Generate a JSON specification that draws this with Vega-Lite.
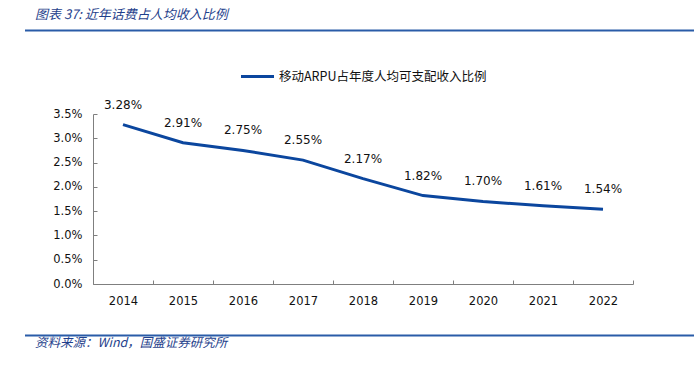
{
  "$schema": "https://vega.github.io/schema/vega-lite/v6.json",
  "background": "white",
  "padding": {"left": 22, "top": 8, "right": 0, "bottom": 0},
  "spacing": 26,
  "columns": 1,
  "bounds": "full",
  "resolve": {"legend": {"color": "independent"}},
  "config": {
    "view": {"stroke": null},
    "font": "DejaVu Sans"
  },
  "datasets": {
    "arpu": [
      {"year": "2014", "ratio": 0.0328},
      {"year": "2015", "ratio": 0.0291},
      {"year": "2016", "ratio": 0.0275},
      {"year": "2017", "ratio": 0.0255},
      {"year": "2018", "ratio": 0.0217},
      {"year": "2019", "ratio": 0.0182},
      {"year": "2020", "ratio": 0.0170},
      {"year": "2021", "ratio": 0.0161},
      {"year": "2022", "ratio": 0.0154}
    ],
    "one": [{"k": 0}]
  },
  "concat": [
    {
      "width": 672,
      "height": 1,
      "data": {"name": "one"},
      "title": {
        "text": "图表 37:  近年话费占人均收入比例",
        "anchor": "start",
        "dx": 11,
        "offset": 8,
        "font": "Noto Sans CJK SC",
        "fontSize": 13,
        "fontStyle": "italic",
        "fontWeight": "normal",
        "color": "#1F3F8C"
      },
      "mark": {"type": "rule", "color": "#2A5CA8", "strokeWidth": 2},
      "encoding": {"y": {"field": "k", "type": "quantitative", "axis": null}}
    },
    {
      "spacing": 27,
      "columns": 1,
      "bounds": "full",
      "resolve": {"legend": {"color": "independent"}},
      "concat": [
        {
          "spacing": 0,
          "bounds": "full",
          "resolve": {"legend": {"color": "independent"}},
          "hconcat": [
            {
              "width": 1,
              "height": 1,
              "data": {"name": "one"},
              "mark": {"type": "point", "opacity": 0},
              "encoding": {}
            },
            {
              "width": 540,
              "height": 170,
              "data": {"name": "arpu"},
              "encoding": {
                "x": {
                  "field": "year",
                  "type": "ordinal",
                  "scale": {"paddingInner": 0, "paddingOuter": 0},
                  "axis": {
                    "title": null,
                    "labelAngle": 0,
                    "tickBand": "extent",
                    "tickSize": -4,
                    "labelPadding": 15,
                    "labelFontSize": 11.5,
                    "labelColor": "#111111",
                    "domainColor": "#7f7f7f",
                    "tickColor": "#7f7f7f",
                    "grid": false
                  }
                },
                "y": {
                  "field": "ratio",
                  "type": "quantitative",
                  "scale": {"domain": [0, 0.035]},
                  "axis": {
                    "title": null,
                    "format": ".1%",
                    "values": [0, 0.005, 0.01, 0.015, 0.02, 0.025, 0.03, 0.035],
                    "tickSize": -4,
                    "labelPadding": 15,
                    "labelFontSize": 11.5,
                    "labelColor": "#111111",
                    "domainColor": "#7f7f7f",
                    "tickColor": "#7f7f7f",
                    "grid": false,
                    "minExtent": 64
                  }
                }
              },
              "layer": [
                {
                  "mark": {"type": "line", "strokeWidth": 3},
                  "encoding": {
                    "color": {
                      "datum": "移动ARPU占年度人均可支配收入比例",
                      "scale": {"range": ["#0B469E"]},
                      "legend": {
                        "title": null,
                        "orient": "none",
                        "legendX": 146,
                        "legendY": -56,
                        "symbolType": "stroke",
                        "symbolSize": 1090,
                        "symbolStrokeWidth": 3,
                        "labelFont": "Noto Sans CJK SC",
                        "labelFontSize": 12.5,
                        "labelLimit": 400,
                        "labelColor": "#111111",
                        "labelOffset": 3
                      }
                    }
                  }
                },
                {
                  "mark": {"type": "text", "dy": -20, "fontSize": 12, "color": "#111111"},
                  "encoding": {
                    "text": {"field": "ratio", "type": "quantitative", "format": ".2%"}
                  }
                }
              ]
            }
          ]
        },
        {
          "width": 672,
          "height": 1,
          "data": {"name": "one"},
          "title": {
            "text": "资料来源：Wind，国盛证券研究所",
            "orient": "bottom",
            "anchor": "start",
            "dx": 11,
            "offset": 0,
            "font": "Noto Sans CJK SC",
            "fontSize": 12.5,
            "fontStyle": "italic",
            "fontWeight": "normal",
            "color": "#1F3F8C"
          },
          "mark": {"type": "rule", "color": "#2A5CA8", "strokeWidth": 2},
          "encoding": {"y": {"field": "k", "type": "quantitative", "axis": null}}
        }
      ]
    }
  ]
}
